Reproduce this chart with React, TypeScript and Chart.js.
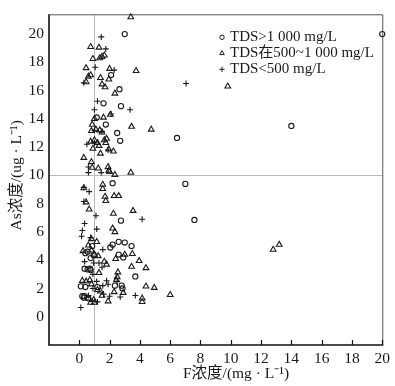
import React, { useEffect, useRef } from "react";
import { Chart, registerables } from "chart.js";

Chart.register(...registerables);

const SERIF = "'Liberation Serif', 'Times New Roman', 'Noto Sans CJK SC', serif";

const seriesLabels = ["TDS>1 000 mg/L", "TDS在500~1 000 mg/L", "TDS<500 mg/L"];
const xTitle = "F浓度/(mg · L⁻¹)";
const yTitle = "As浓度/(ug · L⁻¹)";

const xTicks = [0, 2, 4, 6, 8, 10, 12, 14, 16, 18, 20];
const yTicks = [0, 2, 4, 6, 8, 10, 12, 14, 16, 18, 20];
const xMin = -2;
const xMax = 20;
const yMin = -2;
const yMax = 21.4;
const refF = 1.0;
const refAs = 10;

// TDS > 1000 mg/L (circles)
const highTdsF = [3.0, 20.0, 2.1, 2.65, 1.6, 2.75, 1.15, 1.75, 2.5, 6.45, 2.7, 14.0, 7.0, 2.2, 7.6, 2.75, 2.05, 2.2, 2.6, 3.0, 3.45, 0.55, 0.75, 2.9, 0.35, 0.55, 0.75, 3.7, 0.1, 2.35, 2.8, 2.85, 0.2, 0.35, 0.3, 0.6, 1.2, 0.95, 0.4, 0.85, 2.6, 0.7, 0.4];
const highTdsAs = [20.0, 20.0, 17.1, 16.1, 15.1, 14.9, 14.1, 13.6, 13.0, 12.65, 12.45, 13.5, 9.4, 9.45, 6.85, 6.8, 4.9, 5.1, 5.3, 5.25, 5.0, 4.6, 4.15, 4.2, 3.4, 3.35, 3.3, 2.85, 2.15, 2.2, 2.2, 2.0, 1.45, 1.45, 1.35, 1.3, 2.1, 4.35, 4.5, 5.0, 4.4, 3.4, 2.1];

// TDS 500–1000 mg/L (triangles)
const midTdsF = [3.4, 0.75, 1.3, 0.9, 1.35, 1.5, 1.65, 0.45, 2.0, 3.75, 0.6, 0.75, 1.4, 1.95, 0.45, 1.5, 1.7, 2.35, 9.8, 1.6, 2.05, 1.0, 0.85, 0.8, 1.1, 1.35, 1.5, 3.45, 4.75, 0.75, 1.0, 1.2, 1.3, 1.65, 1.75, 1.8, 0.9, 1.4, 1.95, 2.25, 0.3, 0.8, 0.85, 1.25, 1.9, 1.95, 2.0, 2.35, 3.4, 1.55, 1.55, 0.3, 1.7, 2.3, 2.6, 1.75, 0.45, 0.65, 3.55, 2.25, 2.2, 2.35, 0.8, 1.15, 0.6, 0.25, 0.8, 1.0, 1.25, 2.4, 3.0, 3.5, 1.65, 3.95, 1.8, 3.45, 4.4, 1.3, 2.55, 2.5, 2.45, 0.2, 0.45, 0.7, 0.8, 4.4, 4.95, 1.2, 1.4, 2.3, 2.9, 0.95, 0.6, 1.5, 1.9, 4.15, 4.15, 6.0, 0.75, 1.0, 12.8, 13.2];
const midTdsAs = [21.2, 19.1, 19.05, 18.25, 18.3, 18.4, 18.5, 17.6, 17.55, 17.4, 17.0, 17.1, 16.9, 16.8, 16.6, 16.45, 16.25, 15.8, 16.3, 14.1, 14.3, 14.0, 13.6, 13.15, 13.25, 13.2, 13.05, 13.45, 13.25, 12.4, 12.5, 12.3, 12.1, 12.5, 12.3, 12.6, 11.9, 11.55, 11.85, 11.7, 11.25, 10.95, 10.55, 10.5, 10.6, 10.35, 10.25, 10.05, 10.2, 9.35, 9.05, 9.1, 8.5, 8.55, 8.55, 8.2, 8.1, 7.6, 7.5, 7.3, 6.25, 6.0, 5.5, 5.3, 5.05, 4.65, 4.7, 4.4, 4.3, 4.1, 4.4, 4.45, 3.9, 3.95, 3.7, 3.55, 3.45, 3.1, 3.15, 2.8, 2.6, 2.55, 2.5, 2.6, 2.3, 2.15, 2.05, 1.9, 1.8, 1.75, 1.7, 1.2, 1.3, 1.5, 1.1, 1.3, 1.05, 1.55, 1.0, 1.0, 4.75, 5.1];

// TDS < 500 mg/L (plus signs)
const lowTdsF = [1.45, 1.75, 1.05, 2.3, 0.3, 7.05, 1.2, 1.0, 3.35, 2.1, 1.0, 1.5, 0.5, 1.0, 1.9, 0.6, 1.45, 0.6, 0.3, 0.65, 0.3, 1.1, 4.15, 0.35, 0.2, 0.15, 1.15, 0.75, 1.55, 0.35, 0.95, 1.3, 1.5, 0.9, 1.15, 1.55, 1.9, 1.6, 2.7, 3.7, 2.0, 0.85, 1.2, 0.1, 0.9, 0.6, 1.8, 2.5];
const lowTdsAs = [19.8, 18.95, 17.65, 17.45, 16.55, 16.5, 15.25, 14.65, 14.65, 14.35, 13.2, 13.1, 12.2, 12.3, 11.8, 10.2, 10.2, 10.6, 9.15, 8.85, 8.15, 7.15, 6.9, 6.6, 6.1, 5.7, 6.2, 5.6, 4.75, 3.9, 3.8, 3.8, 3.5, 3.0, 2.5, 2.2, 2.3, 1.6, 1.4, 1.5, 1.45, 1.1, 1.05, 0.65, 2.0, 1.5, 2.55, 2.5];

const toPoints = (xs: number[], ys: number[]) => xs.map((x, i) => ({ x, y: ys[i] }));

const INK = "#1a1a1a";

function drawMarker(ctx: CanvasRenderingContext2D, style: string, x: number, y: number, r: number) {
  ctx.beginPath();
  if (style === "circle") {
    ctx.arc(x, y, r, 0, Math.PI * 2);
  } else if (style === "triangle") {
    for (let k = 0; k < 3; k++) {
      const a = (k * 2 * Math.PI) / 3;
      const px = x + Math.sin(a) * r;
      const py = y - Math.cos(a) * r;
      if (k === 0) ctx.moveTo(px, py);
      else ctx.lineTo(px, py);
    }
    ctx.closePath();
  } else {
    ctx.moveTo(x - r, y);
    ctx.lineTo(x + r, y);
    ctx.moveTo(x, y - r);
    ctx.lineTo(x, y + r);
  }
  ctx.stroke();
}

const framePlugin = {
  id: "frameAndRefs",
  beforeDatasetsDraw(chart: any) {
    const { ctx, chartArea, scales } = chart;
    const { left, right, top, bottom } = chartArea;
    ctx.save();
    // reference lines
    ctx.strokeStyle = "#b8b8b8";
    ctx.lineWidth = 1;
    const rx = Math.round(scales.x.getPixelForValue(refF)) + 0.5;
    const ry = Math.round(scales.y.getPixelForValue(refAs)) + 0.5;
    ctx.beginPath();
    ctx.moveTo(rx, top);
    ctx.lineTo(rx, bottom);
    ctx.moveTo(left, ry);
    ctx.lineTo(right, ry);
    ctx.stroke();
    // frame
    ctx.strokeStyle = "#555";
    ctx.lineWidth = 1;
    ctx.beginPath();
    ctx.moveTo(left, top + 0.5);
    ctx.lineTo(right + 0.5, top + 0.5);
    ctx.lineTo(right + 0.5, bottom);
    ctx.stroke();
    ctx.strokeStyle = "#111";
    ctx.lineWidth = 1.6;
    ctx.beginPath();
    ctx.moveTo(left, top);
    ctx.lineTo(left, bottom);
    ctx.lineTo(right + 1, bottom);
    ctx.stroke();
    // inward ticks on x axis
    ctx.lineWidth = 1.2;
    ctx.beginPath();
    xTicks.forEach((v) => {
      const px = Math.round(scales.x.getPixelForValue(v)) + 0.5;
      ctx.moveTo(px, bottom);
      ctx.lineTo(px, bottom - 5);
    });
    ctx.stroke();
    ctx.restore();
  },
  afterDraw(chart: any) {
    const { ctx, chartArea } = chart;
    ctx.save();
    ctx.fillStyle = INK;
    // axis titles
    ctx.font = `15.5px ${SERIF}`;
    ctx.textAlign = "center";
    ctx.textBaseline = "middle";
    ctx.fillText(xTitle, chartArea.left + 187, 374);
    ctx.translate(17, chartArea.top + 161);
    ctx.rotate(-Math.PI / 2);
    ctx.fillText(yTitle, 0, 0);
    ctx.restore();
    // legend
    ctx.save();
    const styles = ["circle", "triangle", "cross"];
    const radii = [2.2, 2.6, 2.6];
    ctx.font = `15px ${SERIF}`;
    ctx.textAlign = "left";
    ctx.textBaseline = "middle";
    ctx.strokeStyle = INK;
    ctx.fillStyle = INK;
    ctx.lineWidth = 1;
    seriesLabels.forEach((lab, i) => {
      const y = chartArea.top + 23 + i * 16;
      drawMarker(ctx, styles[i], chartArea.left + 173, y, radii[i]);
      ctx.fillText(lab, chartArea.left + 181, y);
    });
    ctx.restore();
  },
};

export default function App() {
  const ref = useRef<HTMLCanvasElement | null>(null);
  useEffect(() => {
    if (!ref.current) return;
    const common = {
      showLine: false,
      borderColor: INK,
      backgroundColor: "rgba(255,255,255,0)",
      borderWidth: 1.1,
      clip: false as any,
    };
    const chart = new Chart(ref.current, {
      type: "scatter",
      data: {
        datasets: [
          { ...common, label: seriesLabels[0], data: toPoints(highTdsF, highTdsAs), pointStyle: "circle", pointRadius: 2.6 },
          { ...common, label: seriesLabels[1], data: toPoints(midTdsF, midTdsAs), pointStyle: "triangle", pointRadius: 3.3 },
          { ...common, label: seriesLabels[2], data: toPoints(lowTdsF, lowTdsAs), pointStyle: "cross", pointRadius: 3 },
        ],
      },
      options: {
        animation: false,
        responsive: false,
        maintainAspectRatio: false,
        layout: { padding: { top: 9, right: 10, left: 0, bottom: 0 } },
        plugins: { legend: { display: false }, tooltip: { enabled: false } },
        scales: {
          x: {
            type: "linear",
            min: xMin,
            max: xMax,
            grid: { display: false, drawTicks: false },
            border: { display: false },
            afterBuildTicks: (s: any) => {
              s.ticks = xTicks.map((v) => ({ value: v }));
            },
            afterFit: (s: any) => {
              s.height = 41;
            },
            ticks: { color: INK, padding: 5, font: { family: SERIF, size: 15.5 }, maxRotation: 0, autoSkip: false },
          },
          y: {
            type: "linear",
            min: yMin,
            max: yMax,
            grid: { display: false, drawTicks: false },
            border: { display: false },
            afterBuildTicks: (s: any) => {
              s.ticks = yTicks.map((v) => ({ value: v }));
            },
            afterFit: (s: any) => {
              s.width = 49;
            },
            ticks: { color: INK, padding: 5, font: { family: SERIF, size: 15.5 }, autoSkip: false },
          },
        },
      },
      plugins: [framePlugin],
    });
    return () => chart.destroy();
  }, []);
  return (
    <div style={{ position: "absolute", left: 0, top: 0, width: 395, height: 386, background: "#fff" }}>
      <canvas ref={ref} width={395} height={386} style={{ display: "block" }} />
    </div>
  );
}
